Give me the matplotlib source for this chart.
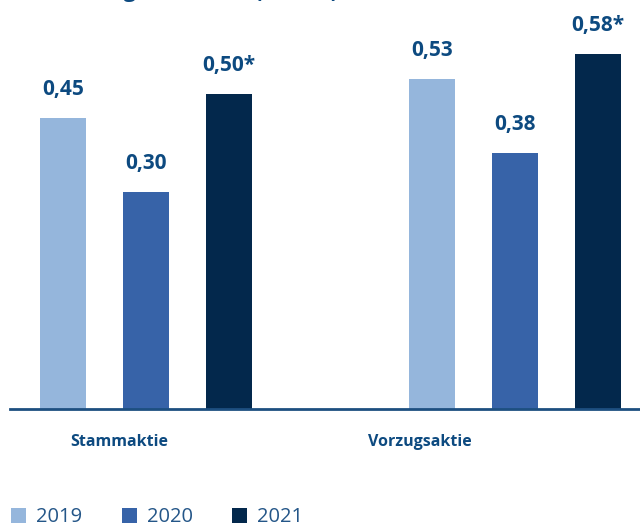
import matplotlib
matplotlib.use("Agg")
import matplotlib.pyplot as plt
import matplotlib.transforms as mtransforms
import numpy as np
from matplotlib.patches import Patch

# data
categories = ["Stammaktie", "Vorzugsaktie"]
years = ["2019", "2020", "2021"]
values_2019 = [0.45, 0.53]
values_2020 = [0.30, 0.38]
values_2021 = [0.50, 0.58]
value_labels_2019 = ["0,45", "0,53"]
value_labels_2020 = ["0,30", "0,38"]
value_labels_2021 = ["0,50*", "0,58*"]
title = "Entwicklung Dividende (in EUR)"

colors = ["#95b6dc", "#3763a8", "#03284c"]
text_blue = "#0d4a80"

plt.rcParams['font.family'] = ['Open Sans', 'DejaVu Sans']

W, H = 640, 527
fig = plt.figure(figsize=(W / 100, H / 100), dpi=100)
ax_bottom_px = 408.5
ax = fig.add_axes([10 / W, (H - ax_bottom_px) / H, 630 / W, ax_bottom_px / H])

base = -0.138
px_per_unit = 493.6
ax.set_ylim(base, base + ax_bottom_px / px_per_unit)
group_px = 369.0
ax.set_xlim(-136 / group_px, 494 / group_px)

x = np.arange(len(categories))
offset = 83 / group_px
width = 46 / group_px

series = [values_2019, values_2020, values_2021]
labels = [value_labels_2019, value_labels_2020, value_labels_2021]
for i, (vals, labs) in enumerate(zip(series, labels)):
    vals = np.array(vals)
    xs = x + (i - 1) * offset
    ax.bar(xs, vals - base, bottom=base, width=width, color=colors[i], linewidth=0, zorder=2)
    for xx, v, lab in zip(xs, vals, labs):
        ax.annotate(lab, (xx, v), xytext=(0, 16.5), textcoords="offset points",
                    ha="center", va="baseline", fontsize=15, fontweight="bold",
                    color=text_blue)

for s in ["top", "right", "left"]:
    ax.spines[s].set_visible(False)
ax.spines["bottom"].set_color("#1d4f80")
ax.spines["bottom"].set_linewidth(2)
ax.set_xticks([])
ax.set_yticks([])

# category labels (placed left of group centers as in reference)
cat_offsets_px = [-27, -95]
shift = mtransforms.ScaledTranslation(0, -34 / 100, fig.dpi_scale_trans)
for xi, cat, off in zip(x, categories, cat_offsets_px):
    ax.text(xi + off / group_px, base, cat, transform=ax.transData + shift,
            ha="center", va="center", fontsize=11.5, fontweight="bold",
            color=text_blue)

# title, mostly cut off at top edge
fig.text(4 / W, 1 + 3 / H, title, ha="left", va="baseline", fontsize=15.5,
         fontweight="bold", color=text_blue)

handles = [Patch(facecolor=c, edgecolor="none") for c in colors]
leg = fig.legend(handles, years, loc="center left",
                 bbox_to_anchor=(11 / W, (H - 517.5) / H), ncol=3, frameon=False,
                 fontsize=14.5, handlelength=0.75, handleheight=0.75,
                 handletextpad=0.5, columnspacing=1.95, borderpad=0, borderaxespad=0)
for t in leg.get_texts():
    t.set_color("#245688")

fig.savefig("out.png", dpi=100)
